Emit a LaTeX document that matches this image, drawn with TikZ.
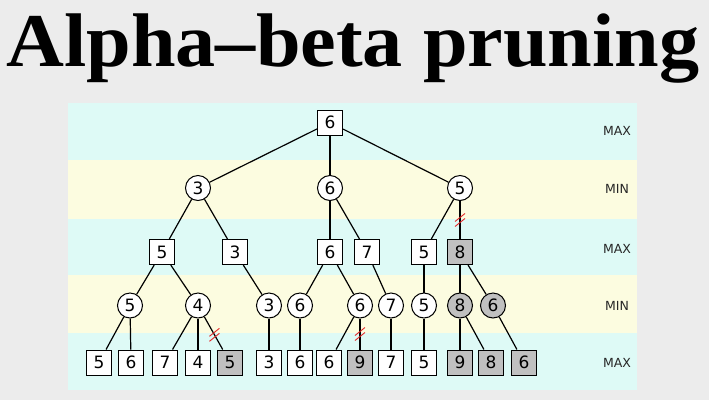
\documentclass[tikz,border=0pt]{standalone}
\usepackage{fontspec}
\setmainfont{Liberation Serif}
\newfontfamily\dejavu{DejaVu Sans}
\definecolor{bgc}{RGB}{236,236,236}
\definecolor{bandc}{RGB}{222,250,246}
\definecolor{bandy}{RGB}{252,252,224}
\definecolor{prunedgray}{RGB}{192,192,192}
\definecolor{cutred}{RGB}{228,40,40}
\tikzset{
  maxn/.style={draw, rectangle, minimum size=25pt, inner sep=0pt, fill=white, line width=1pt,
    font=\dejavu\fontsize{17}{17}\selectfont},
  minn/.style={draw, circle, minimum size=25pt, inner sep=0pt, fill=white, line width=1pt,
    font=\dejavu\fontsize{17}{17}\selectfont},
  pruned/.style={fill=prunedgray},
  edge/.style={line width=1.2pt},
  lvl/.style={font=\dejavu\fontsize{12.5}{12.5}\selectfont, text=black!85},
  cutmark/.pic={
    \draw[cutred, line width=0.9pt] (-5,1.5) -- (5,-6.5);
    \draw[cutred, line width=0.9pt] (-5,6.5) -- (5,-1.5);
  }
}
\begin{document}
\begin{tikzpicture}[x=1pt,y=-1pt]
\useasboundingbox (0,0) rectangle (709,400);
\fill[bgc] (0,0) rectangle (709,400);
% bands
\fill[bandc] (68,103) rectangle (637,160);
\fill[bandy] (68,160) rectangle (637,219);
\fill[bandc] (68,219) rectangle (637,275);
\fill[bandy] (68,275) rectangle (637,333);
\fill[bandc] (68,333) rectangle (637,390);
% title
\node[anchor=base, inner sep=0pt, xscale=1.055, font=\bfseries\fontsize{76}{76}\selectfont] (title) at (353,66) {Alpha–beta pruning};
% level labels
\node[lvl] (l0) at (617,131) {MAX};
\node[lvl] (l1) at (617,189) {MIN};
\node[lvl] (l2) at (617,249) {MAX};
\node[lvl] (l3) at (617,306) {MIN};
\node[lvl] (l4) at (617,363) {MAX};
% level 0
\node[maxn] (r) at (330,122.5) {6};
% level 1
\node[minn] (a1) at (198,188) {3};
\node[minn] (a2) at (330,188) {6};
\node[minn] (a3) at (460,188) {5};
% level 2
\node[maxn] (b1) at (162,252) {5};
\node[maxn] (b2) at (235,252) {3};
\node[maxn] (b3) at (330,252) {6};
\node[maxn] (b4) at (367,252) {7};
\node[maxn] (b5) at (424,252) {5};
\node[maxn, pruned] (b6) at (460,252) {8};
% level 3
\node[minn] (c1) at (130,305.5) {5};
\node[minn] (c2) at (198,305.5) {4};
\node[minn] (c3) at (269,305.5) {3};
\node[minn] (c4) at (300,305.5) {6};
\node[minn] (c5) at (360,305.5) {6};
\node[minn] (c6) at (391,305.5) {7};
\node[minn] (c7) at (424,305.5) {5};
\node[minn, pruned] (c8) at (460,305.5) {8};
\node[minn, pruned] (c9) at (493,305.5) {6};
% level 4
\node[maxn] (d1) at (99,362.5) {5};
\node[maxn] (d2) at (131,362.5) {6};
\node[maxn] (d3) at (165,362.5) {7};
\node[maxn] (d4) at (198,362.5) {4};
\node[maxn, pruned] (d5) at (230,362.5) {5};
\node[maxn] (d6) at (269,362.5) {3};
\node[maxn] (d7) at (300,362.5) {6};
\node[maxn] (d8) at (329,362.5) {6};
\node[maxn, pruned] (d9) at (360,362.5) {9};
\node[maxn] (d10) at (391,362.5) {7};
\node[maxn] (d11) at (424,362.5) {5};
\node[maxn, pruned] (d12) at (460,362.5) {9};
\node[maxn, pruned] (d13) at (491,362.5) {8};
\node[maxn, pruned] (d14) at (524,362.5) {6};
% edges
\draw[edge] (r) -- (a1);
\draw[edge] (r) -- (a2);
\draw[edge] (r) -- (a3);
\draw[edge] (a1) -- (b1);
\draw[edge] (a1) -- (b2);
\draw[edge] (a2) -- (b3);
\draw[edge] (a2) -- (b4);
\draw[edge] (a3) -- (b5);
\draw[edge] (a3) -- (b6) coordinate[pos=0.5] (m1);
\draw[edge] (b1) -- (c1);
\draw[edge] (b1) -- (c2);
\draw[edge] (b2) -- (c3);
\draw[edge] (b3) -- (c4);
\draw[edge] (b3) -- (c5);
\draw[edge] (b4) -- (c6);
\draw[edge] (b5) -- (c7);
\draw[edge] (b6) -- (c8);
\draw[edge] (b6) -- (c9);
\draw[edge] (c1) -- (d1);
\draw[edge] (c1) -- (d2);
\draw[edge] (c2) -- (d3);
\draw[edge] (c2) -- (d4);
\draw[edge] (c2) -- (d5) coordinate[pos=0.55] (m2);
\draw[edge] (c3) -- (d6);
\draw[edge] (c4) -- (d7);
\draw[edge] (c5) -- (d8);
\draw[edge] (c5) -- (d9) coordinate[pos=0.5] (m3);
\draw[edge] (c6) -- (d10);
\draw[edge] (c7) -- (d11);
\draw[edge] (c8) -- (d12);
\draw[edge] (c8) -- (d13);
\draw[edge] (c9) -- (d14);
% cut marks
\pic at (m1) {cutmark};
\pic at (m2) {cutmark};
\pic at (m3) {cutmark};
\end{tikzpicture}
\end{document}
